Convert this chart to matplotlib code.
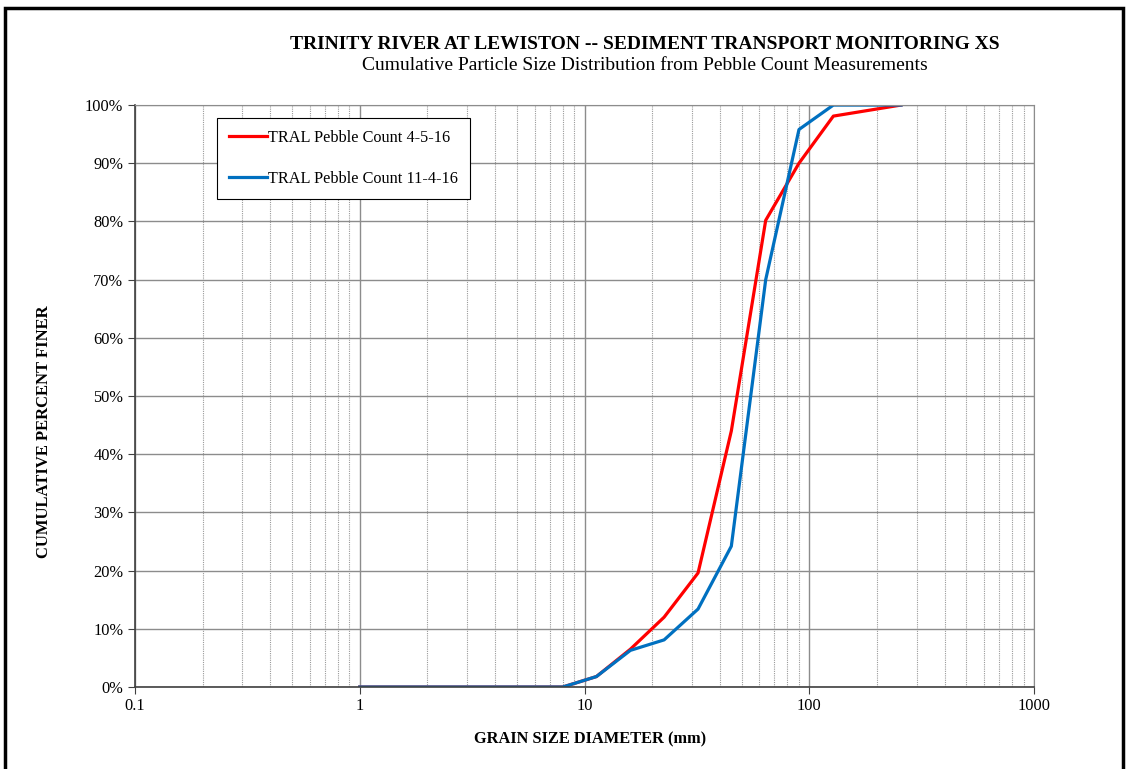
import matplotlib.pyplot as plt
import matplotlib.ticker as mticker
from matplotlib.patches import Rectangle

plt.rcParams["font.family"] = ["Liberation Serif", "DejaVu Serif"]

# grain sizes (mm) and cumulative percent finer
sizes = [1, 2, 4, 8, 11.3, 16, 22.6, 32, 45, 64, 90, 128, 256]
apr_16 = [0, 0, 0, 0, 1.8, 6.5, 12.0, 19.6, 44.0, 80.2, 90.0, 98.1, 100]
nov_16 = [0, 0, 0, 0, 1.8, 6.3, 8.1, 13.4, 24.2, 70.0, 95.8, 100, 100]
labels = ["TRAL Pebble Count 4-5-16", "TRAL Pebble Count 11-4-16"]
colors = ["#FF0000", "#0070C0"]

fig = plt.figure(figsize=(11.27, 7.69), dpi=100)
ax = fig.add_axes([0.1198, 0.1066, 0.7977, 0.7568])

ax.plot(sizes, apr_16, color=colors[0], lw=2.3, label=labels[0])
ax.plot(sizes, nov_16, color=colors[1], lw=2.3, label=labels[1])

ax.set_xscale("log")
ax.set_xlim(0.1, 1000)
ax.set_ylim(0, 100)
ax.xaxis.set_major_formatter(mticker.FuncFormatter(lambda v, p: f"{v:g}"))
ax.xaxis.set_minor_locator(mticker.LogLocator(base=10, subs=range(2, 10), numticks=20))
ax.xaxis.set_minor_formatter(mticker.NullFormatter())
ax.yaxis.set_major_locator(mticker.MultipleLocator(10))
ax.yaxis.set_major_formatter(mticker.FuncFormatter(lambda v, p: f"{v:.0f}%"))

ax.grid(which="major", color="#8c8c8c", lw=1.0)
ax.grid(which="minor", axis="x", color="#9a9a9a", lw=0.8, ls=(0, (1, 1)))
ax.set_axisbelow(True)
for s in ["top", "right"]:
    ax.spines[s].set_color("#8c8c8c")
for s in ["left", "bottom"]:
    ax.spines[s].set_color("#404040")
    ax.spines[s].set_linewidth(1.2)
ax.tick_params(which="major", length=5, color="#404040", labelsize=11.8)
ax.tick_params(axis="x", pad=3)
ax.tick_params(which="minor", length=0)

ax.set_xlabel("GRAIN SIZE DIAMETER (mm)", fontsize=11.8, fontweight="bold")
ax.set_ylabel("CUMULATIVE PERCENT FINER", fontsize=12, fontweight="bold")
ax.xaxis.set_label_coords(0.506, -0.076)
ax.yaxis.set_label_coords(-0.092, 0.438)

fig.text(0.572, 0.942, "TRINITY RIVER AT LEWISTON -- SEDIMENT TRANSPORT MONITORING XS",
         ha="center", va="center", fontsize=14, fontweight="bold")
fig.text(0.572, 0.915, "Cumulative Particle Size Distribution from Pebble Count Measurements",
         ha="center", va="center", fontsize=14)

leg = ax.legend(loc="upper left", bbox_to_anchor=(0.1925, 0.8466),
                bbox_transform=fig.transFigure, fontsize=11.7, frameon=True,
                fancybox=False, edgecolor="black", framealpha=1,
                handlelength=2.3, handletextpad=0.1, labelspacing=1.5,
                borderpad=0.75, borderaxespad=0)
leg.get_frame().set_linewidth(0.8)

fig.patches.append(Rectangle((5 / 1127, -0.05), 1118 / 1127, 1 - 8 / 769 + 0.05,
                             transform=fig.transFigure, fill=False,
                             edgecolor="black", lw=2.5))

fig.savefig("out.png", dpi=100)
